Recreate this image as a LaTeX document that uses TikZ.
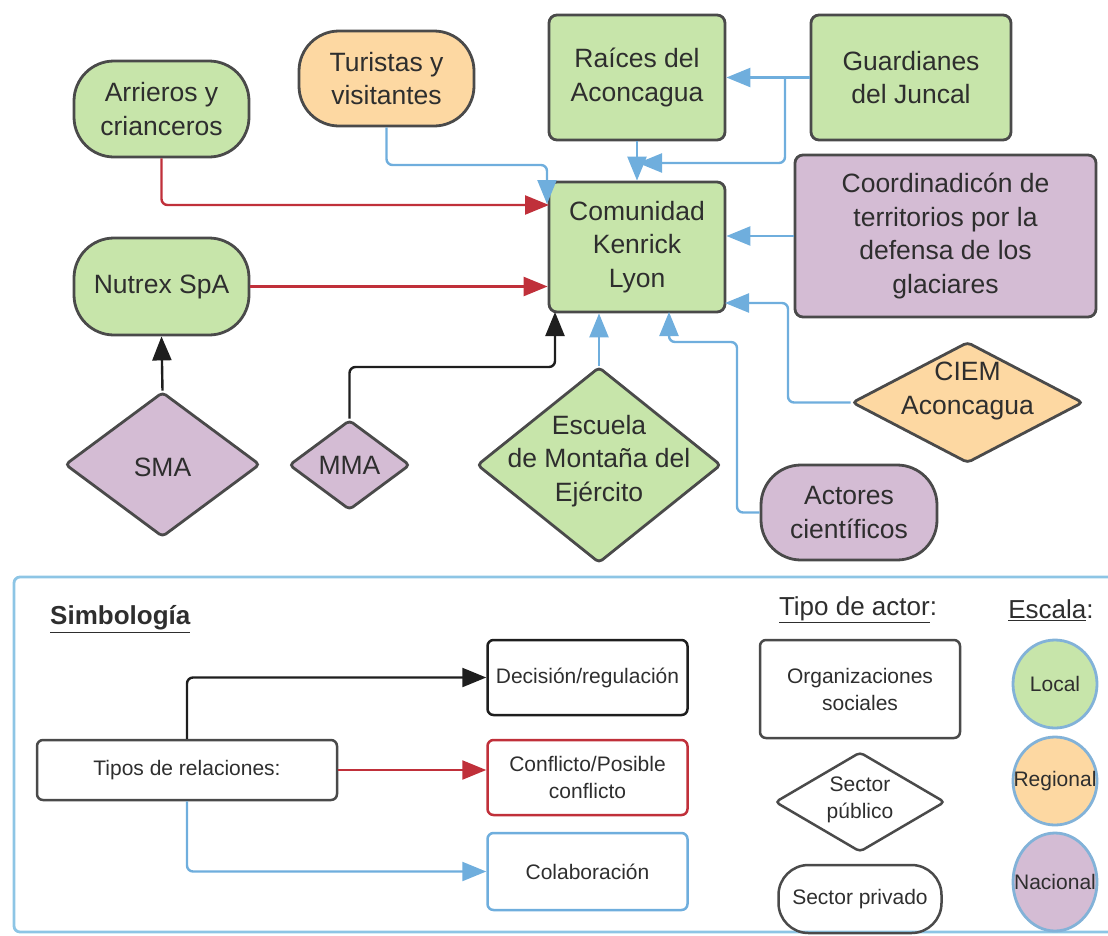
\documentclass[tikz,border=0pt]{standalone}
\usepackage{fontspec}
\setmainfont{Liberation Sans}
\usetikzlibrary{shapes.geometric,arrows.meta}
\definecolor{gfill}{HTML}{C7E5AA}
\definecolor{ofill}{HTML}{FDD8A2}
\definecolor{pfill}{HTML}{D4BCD4}
\definecolor{bord}{HTML}{4A4A4A}
\definecolor{txt}{HTML}{2E2E2E}
\definecolor{colb}{HTML}{6FAEDD}
\definecolor{conr}{HTML}{C0303A}
\definecolor{decb}{HTML}{1E1E1E}
\definecolor{legb}{HTML}{8DC5E5}
\definecolor{ellb}{HTML}{82B2D8}
\newcommand\mainfs{\fontsize{26.5}{33.5}\selectfont}
\newcommand\legfs{\fontsize{21}{27}\selectfont}
\newcommand\titfs{\fontsize{26}{30}\selectfont}
\begin{document}
\begin{tikzpicture}[x=1pt,y=-1pt,
  box/.style={draw=bord, line width=2.8pt, rounded corners=8pt, align=center, font=\mainfs, text=txt, inner sep=0pt},
  stad/.style={box, rounded corners=40pt},
  dia/.style={diamond, draw=bord, line width=2.8pt, inner sep=0pt, rounded corners=4pt},
  lbl/.style={align=center, font=\mainfs, text=txt, inner sep=0pt},
  llbl/.style={align=center, font=\legfs, text=txt, inner sep=0pt},
  lbox/.style={draw, line width=2.5pt, rounded corners=6pt, align=center, font=\legfs, text=txt, inner sep=0pt},
  rel/.style={line width=2.4pt, rounded corners=6pt},
  colab/.style={rel, draw=colb, -{Triangle[length=24pt,width=19pt,fill=colb]}},
  confl/.style={rel, draw=conr, -{Triangle[length=24pt,width=19pt,fill=conr]}},
  decis/.style={rel, draw=decb, -{Triangle[length=24pt,width=19pt,fill=decb]}},
  ell/.style={ellipse, draw=ellb, line width=2.8pt, inner sep=0pt}
]
\useasboundingbox (0,0) rectangle (1108,935);

% ---- main nodes
\node[stad, fill=gfill, minimum width=175pt, minimum height=96pt] (arr) at (161.5,109) {Arrieros y\\crianceros};
\node[stad, fill=ofill, minimum width=175pt, minimum height=95pt] (tur) at (386.5,78.5) {Turistas y\\visitantes};
\node[box, fill=gfill, minimum width=176pt, minimum height=125pt] (rai) at (637,77.5) {Raíces del\\Aconcagua};
\node[box, fill=gfill, minimum width=200pt, minimum height=125pt] (gua) at (911,77.5) {Guardianes\\del Juncal};
\node[box, fill=gfill, minimum width=176pt, minimum height=130pt] (com) at (637,247) {Comunidad\\Kenrick\\Lyon};
\node[box, fill=pfill, minimum width=301pt, minimum height=162pt] (coo) at (945.5,236) {Coordinadicón de\\territorios por la\\defensa de los\\glaciares};
\node[stad, fill=gfill, minimum width=175pt, minimum height=97pt] (nut) at (161.5,286.5) {Nutrex SpA};

\node[dia, fill=pfill, minimum width=195pt, minimum height=145pt] (sma) at (162.5,464.5) {};
\node[lbl] (smat) at (162.5,467) {SMA};
\node[dia, fill=pfill, minimum width=121pt, minimum height=90pt] (mma) at (349.5,465) {};
\node[lbl] (mmat) at (349.5,465) {MMA};
\node[dia, fill=gfill, minimum width=244pt, minimum height=196pt] (esc) at (599,465) {};
\node[lbl] (esct) at (599,461) {Escuela\\de Montaña del\\Ejército};
\node[dia, fill=ofill, minimum width=231pt, minimum height=121pt] (ciem) at (967.5,402.5) {};
\node[lbl] (ciemt) at (967.5,391) {CIEM\\Aconcagua};
\node[stad, fill=pfill, minimum width=176pt, minimum height=95pt] (act) at (849,512.5) {Actores\\científicos};

% ---- connectors
\coordinate (a1) at (549,205);
\draw[confl] (arr.south) |- (a1);
\draw[confl] (nut.east) -- (nut.east -| com.west);

\coordinate (t0) at (547,165);
\coordinate (t1) at (547,204);
\draw[colab] (tur.south) |- (t0) -- (t1);

\draw[colab] (gua.west) -- (rai.east);
\draw[colab] (rai.south) -- (com.north);
\coordinate (j0) at (785,77.5);
\coordinate (j1) at (638,163);
\draw[colab] (j0) |- (j1);

\draw[colab] (coo.west) -- (coo.west -| com.east);

\coordinate (ci0) at (788,303);
\coordinate (ci1) at (725,303);
\draw[colab] (ciem.west) -| (ci0) -- (ci1);

\coordinate (ac0) at (737,342);
\coordinate (ac1) at (669,312);
\draw[colab] (act.west) -| (ac0) -| (ac1);

\draw[colab] (esc.north) -- (esc.north |- com.south);

\coordinate (m0) at (555,367);
\coordinate (m1) at (555,312);
\draw[decis] (mma.north) |- (m0) -- (m1);

\draw[decis] (sma.north) -- (nut.south);

% ---- legend
\draw[draw=legb, line width=2.8pt, rounded corners=6pt] (14,577) rectangle (1140,932);
\node[anchor=west, font=\titfs\bfseries, text=txt, inner sep=0pt] (simb) at (50,619) {\underline{Simbología}};

\node[lbox, draw=bord, minimum width=300pt, minimum height=60pt] (tip) at (187,770) {Tipos de relaciones:};
\node[lbox, draw=decb, minimum width=200pt, minimum height=75pt] (dec) at (587.5,677.5) {Decisión/regulación};
\node[lbox, draw=conr, minimum width=200pt, minimum height=75pt] (con) at (587.5,777.5) {Conflicto/Posible\\conflicto};
\node[lbox, draw=colb, minimum width=200pt, minimum height=77pt] (cola) at (587.5,871.5) {Colaboración};

\draw[decis] (tip.north) |- (dec.west);
\draw[confl] (tip.east) -- (tip.east -| con.west);
\draw[colab] (tip.south) |- (cola.west);

\node[font=\titfs, text=txt, inner sep=0pt] (tact) at (858,610) {\underline{Tipo de actor}:};
\node[lbox, draw=bord, minimum width=200pt, minimum height=98pt] (org) at (860,689) {Organizaciones\\sociales};
\node[dia, draw=bord, line width=2.5pt, minimum width=170pt, minimum height=100pt] (pub) at (860,802) {};
\node[llbl] (pubt) at (860,800) {Sector\\público};
\node[lbox, draw=bord, rounded corners=30pt, minimum width=163pt, minimum height=68pt] (priv) at (860,899) {Sector privado};

\node[font=\titfs, text=txt, inner sep=0pt] (tesc) at (1051,610) {\underline{Escala}:};
\node[ell, fill=gfill, minimum width=84pt, minimum height=88pt] (loc) at (1055,684) {};
\node[llbl] (loct) at (1055,684) {Local};
\node[ell, fill=ofill, minimum width=84pt, minimum height=88pt] (reg) at (1055,781) {};
\node[llbl] (regt) at (1055,781) {Regional};
\node[ell, fill=pfill, minimum width=84pt, minimum height=98pt] (nac) at (1055,882) {};
\node[llbl] (nact) at (1055,882) {Nacional};
\end{tikzpicture}
\end{document}
